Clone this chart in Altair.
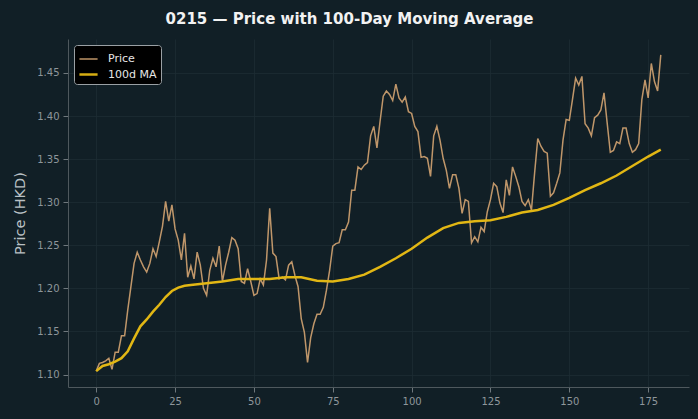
import altair as alt
import pandas as pd

price = [
    1.104, 1.113, 1.114, 1.116, 1.119, 1.106, 1.126, 1.126, 1.145, 1.145,
    1.175, 1.202, 1.229, 1.242, 1.233, 1.225, 1.219, 1.229, 1.246, 1.237,
    1.254, 1.272, 1.301, 1.278, 1.297, 1.269, 1.256, 1.233, 1.264, 1.213,
    1.226, 1.211, 1.242, 1.227, 1.200, 1.192, 1.221, 1.235, 1.225, 1.249,
    1.208, 1.227, 1.242, 1.259, 1.256, 1.246, 1.208, 1.206, 1.223, 1.208,
    1.192, 1.194, 1.211, 1.204, 1.233, 1.293, 1.241, 1.237, 1.211, 1.213,
    1.210, 1.227, 1.231, 1.215, 1.202, 1.165, 1.149, 1.114, 1.143, 1.159,
    1.170, 1.170, 1.178, 1.198, 1.221, 1.249, 1.252, 1.253, 1.268, 1.268,
    1.277, 1.314, 1.314, 1.341, 1.338, 1.343, 1.346, 1.377, 1.388, 1.363,
    1.394, 1.423, 1.429, 1.425, 1.418, 1.437, 1.421, 1.416, 1.422, 1.405,
    1.403, 1.388, 1.382, 1.352, 1.353, 1.351, 1.330, 1.377, 1.388, 1.372,
    1.351, 1.337, 1.316, 1.332, 1.332, 1.316, 1.287, 1.303, 1.301, 1.253,
    1.260, 1.254, 1.271, 1.266, 1.289, 1.303, 1.322, 1.318, 1.299, 1.288,
    1.326, 1.308, 1.341, 1.330, 1.318, 1.301, 1.296, 1.303, 1.291, 1.334,
    1.374, 1.365, 1.359, 1.357, 1.307, 1.311, 1.322, 1.334, 1.372, 1.396,
    1.395, 1.419, 1.444, 1.436, 1.446, 1.391, 1.386, 1.377, 1.398, 1.401,
    1.407, 1.427, 1.392, 1.358, 1.360, 1.370, 1.368, 1.386, 1.386, 1.368,
    1.358, 1.361, 1.368, 1.419, 1.442, 1.421, 1.461, 1.440, 1.429, 1.471,
]

ma_day = [0, 2, 4, 6, 8, 10, 12, 14, 16, 18, 20, 22, 24, 26, 28, 30, 35, 40,
          45, 50, 55, 60, 65, 70, 75, 80, 85, 90, 95, 100, 105, 110, 115, 120,
          125, 130, 135, 140, 145, 150, 155, 160, 165, 170, 175, 179]
ma_val = [1.104, 1.110, 1.112, 1.115, 1.119, 1.127, 1.142, 1.156, 1.164, 1.173,
          1.181, 1.190, 1.197, 1.201, 1.203, 1.204, 1.206, 1.208, 1.211, 1.211,
          1.211, 1.213, 1.213, 1.209, 1.208, 1.211, 1.216, 1.225, 1.235, 1.246,
          1.259, 1.270, 1.276, 1.278, 1.279, 1.283, 1.288, 1.291, 1.297, 1.305,
          1.314, 1.322, 1.331, 1.342, 1.353, 1.361]

series_names = ["Price", "100d MA"]
series_colors = ["#c99d6e", "#e2b714"]
series_widths = [1.5, 2.5]
x_ticks = [0, 25, 50, 75, 100, 125, 150, 175]
y_ticks = [1.10, 1.15, 1.20, 1.25, 1.30, 1.35, 1.40, 1.45]

df = pd.concat([
    pd.DataFrame({"day": list(range(len(price))), "value": price, "series": "Price"}),
    pd.DataFrame({"day": ma_day, "value": ma_val, "series": "100d MA"}),
])

BG = "#111f26"
FONT = "DejaVu Sans"

legend_kw = dict(title=None, orient="top-left", offset=6,
                 symbolType="stroke", symbolSize=330,
                 fillColor="#000000", strokeColor="#9aa0a4",
                 cornerRadius=3, padding=4, rowPadding=0, labelOffset=9,
                 labelColor="#e6e6e6", labelFontSize=11, labelFont=FONT)

color = alt.Color(
    "series:N",
    scale=alt.Scale(domain=series_names, range=series_colors),
    legend=alt.Legend(**legend_kw),
)
width = alt.StrokeWidth(
    "series:N",
    scale=alt.Scale(domain=series_names, range=series_widths),
    legend=alt.Legend(**legend_kw),
)

x = alt.X("day:Q", scale=alt.Scale(domain=[-8.95, 187.95], nice=False, zero=False),
          axis=alt.Axis(values=x_ticks, title=None, format="d"))
y = alt.Y("value:Q", scale=alt.Scale(domain=[1.0856, 1.4894], nice=False, zero=False),
          axis=alt.Axis(values=y_ticks, title="Price (HKD)", format=".2f",
                        titlePadding=9))

base = alt.Chart(df).encode(x=x, y=y, color=color, strokeWidth=width)
price_layer = base.transform_filter(alt.datum.series == "Price").mark_line(opacity=0.95)
ma_layer = base.transform_filter(alt.datum.series == "100d MA").mark_line()

chart = (
    alt.layer(price_layer, ma_layer)
    .properties(
        width=621, height=348,
        autosize=alt.AutoSizeParams(type="none"),
        padding={"left": 68, "top": 39, "right": 9, "bottom": 32},
        background=BG,
        title=alt.TitleParams("0215 — Price with 100-Day Moving Average",
                              fontSize=15, fontWeight="bold", color="#f2f2f2",
                              font=FONT, anchor="middle", dx=-29, offset=12),
    )
    .configure_view(stroke=None, fill=BG)
    .configure_axis(
        labelFont=FONT, labelFontSize=10, labelColor="#8e969b",
        titleFont=FONT, titleFontSize=14.5, titleFontWeight="normal", titleColor="#b9c0c4",
        domainColor="#4e585d", tickColor="#6e777c", tickSize=5,
        gridColor="#1d2c33", gridWidth=0.8, labelPadding=4,
    )
)

chart.save("out.html", embed_options={"renderer": "svg", "actions": False})
